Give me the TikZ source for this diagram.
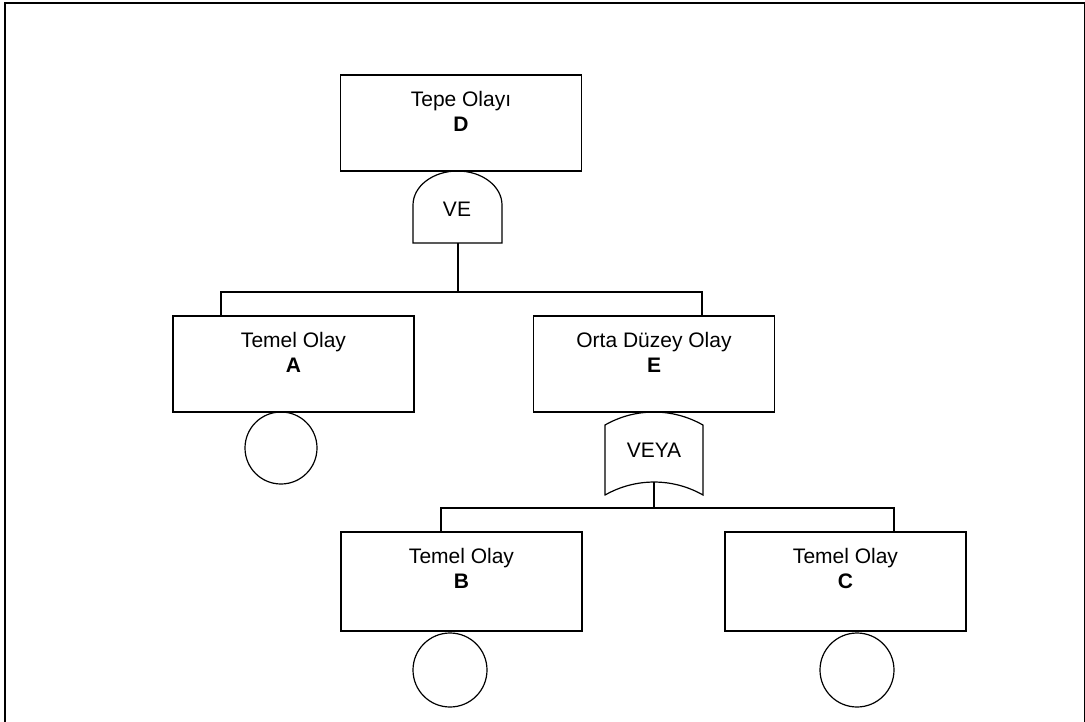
\documentclass[tikz,border=0pt]{standalone}
\usepackage{fontspec}
\setmainfont{Liberation Sans}
\usetikzlibrary{positioning}

\begin{document}
\begin{tikzpicture}[x=1pt,y=-1pt,line width=1.2pt,
    event/.style={draw,minimum width=241pt,minimum height=#1,inner sep=0pt},
    evtext/.style={align=center,inner sep=0pt,font=\fontsize{21}{25.5}\selectfont},
    basic/.style={draw,circle,minimum size=#1,inner sep=0pt}]
        \useasboundingbox (0,0) rectangle (1085,721);
        \draw (5,3) rectangle (1084.3,740);
        % events and their texts
        \foreach \n/\x/\y/\h/\t in {D/461/123/96/Tepe Olayı, A/293.5/364/96/Temel Olay,
          E/654/364/96/Orta Düzey Olay, B/461.5/581.5/99/Temel Olay, C/845.5/581.5/99/Temel Olay}{
          \node[event=\h pt] (\n) at (\x,\y) {};
          \node[evtext] (\n txt) at ([yshift=-37pt]\n.north) {\t\\\textbf{\n}};
        }
        % basic events
        \foreach \n/\x/\y/\d in {A/281/448/72,B/450/670/74,C/857/670/74}
          \node[basic=\d pt] (\n bas) at (\x,\y) {};
        % gates
        \draw (413,243) -- (413,205) arc[start angle=180,end angle=0,x radius=44.5pt,y radius=34pt] -- (502,243) -- cycle;
        \node[evtext] (ve) at (457,209.5) {VE};
        \coordinate (ve out) at (458,243);
        \draw (605,495) -- (605,425) arc[start angle=119.7,end angle=60.3,radius=98.8pt]
          -- (703,495) arc[start angle=60.3,end angle=119.7,radius=98.8pt] -- cycle;
        \node[evtext] (veya) at (654,450.5) {VEYA};
        \coordinate (veya out) at (654,482);
        % connectors
        \coordinate (A in) at ([xshift=-72.5pt]A.north);
        \coordinate (E in) at ([xshift=48pt]E.north);
        \coordinate (B in) at ([xshift=-20.5pt]B.north);
        \coordinate (C in) at ([xshift=48.5pt]C.north);
        \draw (ve out) -- (458,292) coordinate (ve bus);
        \draw (A in) |- (ve bus) -| (E in);
        \draw (veya out) -- (654,508) coordinate (veya bus);
        \draw (B in) |- (veya bus) -| (C in);
      \end{tikzpicture}
\end{document}
